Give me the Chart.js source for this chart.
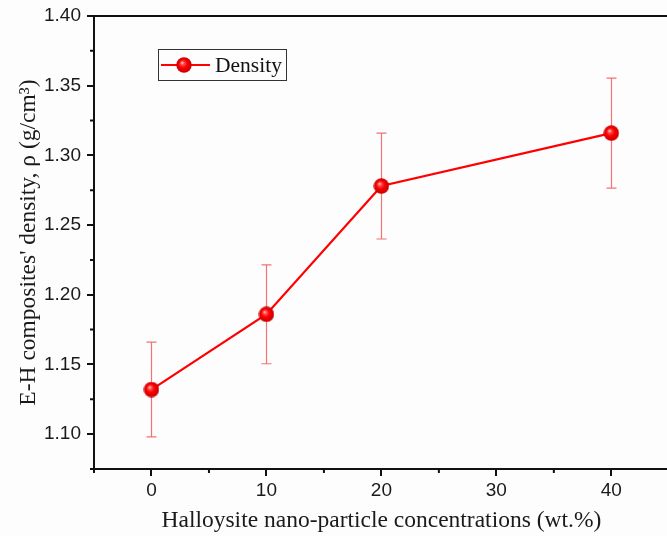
<!DOCTYPE html>
<html><head><meta charset="utf-8">
<script src="https://cdn.jsdelivr.net/npm/chart.js@4/dist/chart.umd.min.js"></script>
<style>html,body{margin:0;padding:0;background:#fdfdfd;overflow:hidden}</style>
</head><body>
<canvas id="c" width="679" height="536"></canvas>
<script>
const concentrations = [0, 10, 20, 40];
const density = [1.132, 1.186, 1.278, 1.316];
const densityError = [0.034, 0.0355, 0.038, 0.0395];
const xTickValues = [0, 10, 20, 30, 40];
const yTickValues = [1.10, 1.15, 1.20, 1.25, 1.30, 1.35, 1.40];
const xMinorValues = [-5, 5, 15, 25, 35, 45];
const yMinorValues = [1.075, 1.125, 1.175, 1.225, 1.275, 1.325, 1.375];
const seriesLabel = 'Density';
const xTitle = 'Halloysite nano-particle concentrations (wt.%)';
const yTitle = "E-H composites' density, \u03c1 (g/cm\u00b3)";

function makeSphere(r) {
  const c = document.createElement('canvas');
  c.width = c.height = 2 * r;
  const g = c.getContext('2d');
  const grad = g.createRadialGradient(r * 0.75, r * 0.7, 0, r, r, r);
  grad.addColorStop(0, '#ffe0e0');
  grad.addColorStop(0.22, '#ff5050');
  grad.addColorStop(0.5, '#ff0000');
  grad.addColorStop(1, '#c00000');
  g.fillStyle = grad;
  g.beginPath(); g.arc(r, r, r - 0.3, 0, Math.PI * 2); g.fill();
  return c;
}
const sphere = makeSphere(8);

const points = concentrations.map((x, i) => ({x: x, y: density[i]}));

const extras = {
  id: 'extras',
  beforeDatasetsDraw(chart) {
    const ctx = chart.ctx, xs = chart.scales.x, ys = chart.scales.y;
    ctx.save();
    ctx.strokeStyle = '#f47272';
    ctx.lineWidth = 1.2;
    concentrations.forEach((x, i) => {
      const px = Math.round(xs.getPixelForValue(x)) + 0.5;
      const top = ys.getPixelForValue(density[i] + densityError[i]);
      const bot = ys.getPixelForValue(density[i] - densityError[i]);
      ctx.beginPath();
      ctx.moveTo(px, top); ctx.lineTo(px, bot);
      ctx.moveTo(px - 5, top); ctx.lineTo(px + 5, top);
      ctx.moveTo(px - 5, bot); ctx.lineTo(px + 5, bot);
      ctx.stroke();
    });
    ctx.restore();
  },
  afterDraw(chart) {
    const ctx = chart.ctx, xs = chart.scales.x, ys = chart.scales.y, a = chart.chartArea;
    ctx.save();
    ctx.strokeStyle = '#111';
    ctx.lineWidth = 2;
    ctx.beginPath();
    xMinorValues.forEach(v => { const p = xs.getPixelForValue(v); ctx.moveTo(p, a.bottom); ctx.lineTo(p, a.bottom + 4); });
    yMinorValues.forEach(v => { const p = ys.getPixelForValue(v); ctx.moveTo(a.left, p); ctx.lineTo(a.left - 4, p); });
    ctx.stroke();
    ctx.beginPath(); ctx.moveTo(a.left - 1, a.top); ctx.lineTo(a.right + 2, a.top); ctx.stroke();
    const lx = 158, ly = 49, lw = 128, lh = 31;
    ctx.lineWidth = 1; ctx.strokeStyle = '#333';
    ctx.fillStyle = '#fdfdfd';
    ctx.fillRect(lx, ly, lw, lh);
    ctx.strokeRect(lx + 0.5, ly + 0.5, lw, lh);
    ctx.strokeStyle = '#ff0000'; ctx.lineWidth = 2;
    ctx.beginPath(); ctx.moveTo(161, ly + 16); ctx.lineTo(210, ly + 16); ctx.stroke();
    ctx.drawImage(sphere, 184 - 8, ly + 16 - 8);
    ctx.fillStyle = '#111';
    ctx.font = '21.5px "Liberation Serif", "Times New Roman", serif';
    ctx.textBaseline = 'middle'; ctx.textAlign = 'left';
    ctx.fillText(seriesLabel, 215, ly + 17);
    ctx.restore();
  }
};

new Chart(document.getElementById('c'), {
  type: 'scatter',
  data: {
    datasets: [{
      label: seriesLabel,
      data: points,
      showLine: true,
      borderColor: '#ff0000',
      borderWidth: 2.2,
      pointStyle: sphere,
      pointRadius: 8,
      pointHoverRadius: 8,
      backgroundColor: '#ff0000'
    }]
  },
  options: {
    responsive: false,
    animation: false,
    events: [],
    layout: {padding: {top: 16, right: 1, left: 0, bottom: 0}},
    plugins: {legend: {display: false}, tooltip: {enabled: false}},
    scales: {
      x: {
        type: 'linear', min: -5, max: 45,
        afterBuildTicks: s => { s.ticks = xTickValues.map(v => ({value: v})); },
        afterFit: s => { s.height = 67; s.paddingLeft = 0; s.paddingRight = 0; },
        grid: {drawOnChartArea: false, color: '#111', lineWidth: 2, tickLength: 7, tickColor: '#111'},
        border: {display: true, color: '#111', width: 2},
        ticks: {color: '#1a1a1a', padding: 3, maxRotation: 0, font: {family: '"Liberation Sans", Arial, sans-serif', size: 19}},
        title: {display: true, text: xTitle, color: '#1a1a1a', padding: {top: 0, bottom: 1}, font: {family: '"Liberation Serif", "Times New Roman", serif', size: 23.5}}
      },
      y: {
        type: 'linear', min: 1.075, max: 1.40,
        afterBuildTicks: s => { s.ticks = yTickValues.map(v => ({value: v})); },
        afterFit: s => { s.width = 94; s.paddingTop = 0; s.paddingBottom = 0; },
        grid: {drawOnChartArea: false, color: '#111', lineWidth: 2, tickLength: 7, tickColor: '#111'},
        border: {display: true, color: '#111', width: 2},
        ticks: {color: '#1a1a1a', padding: 6, callback: v => v.toFixed(2), font: {family: '"Liberation Sans", Arial, sans-serif', size: 19}},
        title: {display: true, text: yTitle, color: '#1a1a1a', padding: {top: 15, bottom: 0}, font: {family: '"Liberation Serif", "Times New Roman", serif', size: 23.5}}
      }
    }
  },
  plugins: [extras]
});
</script>
</body></html>
